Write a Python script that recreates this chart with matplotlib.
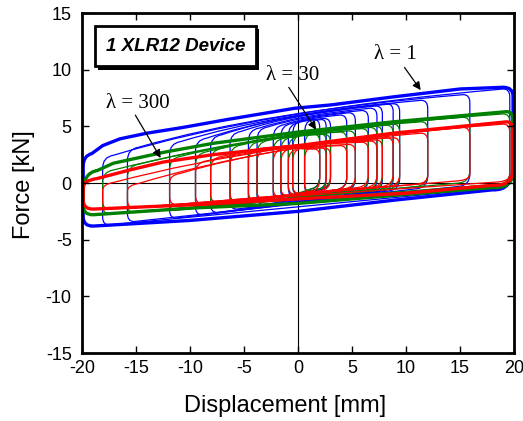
import matplotlib
matplotlib.use("Agg")
import matplotlib.pyplot as plt
from matplotlib.path import Path
from matplotlib.patches import PathPatch, Rectangle

plt.rcParams["axes.unicode_minus"] = False

# outer (largest) loop of each test, upper and lower branches [mm, kN]
blue_up_x = [-19.1, -18.1, -16.5, -14.0, -10.7, -6.6, -0.3, 3.1, 8.8, 15.0, 19.0]
blue_up_f = [2.6, 3.3, 3.9, 4.4, 4.9, 5.6, 6.6, 6.9, 7.6, 8.3, 8.45]
blue_lo_x = [-19.0, -10.0, 0.0, 9.0, 18.0]
blue_lo_f = [-3.8, -3.3, -2.5, -1.5, -0.6]

green_up_x = [-18.6, -17.1, -12.5, -7.9, 0.0, 8.8, 19.3]
green_up_f = [1.1, 1.75, 2.7, 3.5, 4.5, 5.4, 6.3]
green_lo_x = [-19.0, -9.7, 0.0, 8.8, 18.0]
green_lo_f = [-2.8, -2.2, -1.8, -1.1, -0.4]

red_up_x = [-18.6, -15.6, -12.5, -7.9, 0.0, 8.8, 19.3]
red_up_f = [0.4, 1.15, 1.85, 2.5, 3.3, 4.4, 5.4]
red_lo_x = [-19.0, -9.3, 0.0, 10.0, 18.0]
red_lo_f = [-2.3, -1.9, -1.4, -0.9, -0.2]

# inner loops: displacement reversal points [mm]
loop_left = [-18.1, -15.8, -11.9, -9.5, -8.1, -6.3, -4.6, -3.8, -2.3, -1.6, -0.9, -0.5, 0.6]
loop_right = [19.6, 15.9, 12.0, 9.4, 8.8, 7.8, 7.3, 6.5, 5.3, 4.5, 3.0, 2.0, 2.6]

# inner loop corner forces [kN]: top-left, top-right, bottom-left, bottom-right
blue_tl = [2.3, 3.0, 3.5, 3.8, 4.1, 4.4, 4.7, 4.8, 5.0, 5.1, 5.2, 5.3, 5.4]
blue_tr = [8.3, 7.8, 7.3, 7.0, 7.0, 6.8, 6.6, 6.4, 6.2, 6.0, 5.7, 5.6, 5.6]
blue_bl = [-3.7, -3.4, -3.1, -2.8, -2.6, -2.3, -2.0, -1.9, -1.6, -1.4, -1.2, -1.0, -0.8]
blue_br = [-0.3, -0.2, -0.4, -0.6, -0.6, -0.7, -0.7, -0.6, -0.6, -0.5, -0.5, -0.4, -0.4]

green_tl = [1.0, 1.5, 2.2, 2.6, 2.9, 3.2, 3.5, 3.6, 3.8, 3.9, 4.0, 4.1, 4.2]
green_tr = [6.1, 5.8, 5.4, 5.2, 5.1, 5.0, 4.9, 4.8, 4.6, 4.5, 4.3, 4.3, 4.3]
green_bl = [-2.7, -2.6, -2.4, -2.2, -2.1, -1.9, -1.7, -1.6, -1.4, -1.2, -1.0, -0.9, -0.7]
green_br = [0.0, 0.1, -0.2, -0.4, -0.4, -0.5, -0.5, -0.5, -0.5, -0.5, -0.4, -0.4, -0.4]

red_tl = [-0.1, -0.2, 0.7, 1.8, 2.2, 2.6, 2.9, 2.9, 2.9, 2.9, 2.9, 2.9, 3.0]
red_tr = [5.2, 4.9, 4.4, 4.0, 4.0, 3.8, 3.7, 3.6, 3.4, 3.3, 3.1, 3.0, 3.1]
red_bl = [-2.3, -2.2, -1.9, -1.8, -1.7, -1.6, -1.5, -1.4, -1.2, -1.1, -1.0, -0.9, -0.8]
red_br = [0.2, 0.3, 0.0, -0.2, -0.2, -0.3, -0.3, -0.3, -0.4, -0.5, -0.6, -0.6, -0.6]

# where the near-vertical reloading branches bend (left, right) [kN]
blue_knee = (1.5, 1.5)
green_knee = (-0.8, 1.0)
red_knee = (-0.3, 1.2)

x_ticks = [-20, -15, -10, -5, 0, 5, 10, 15, 20]
y_ticks = [-15, -10, -5, 0, 5, 10, 15]


def outer_path(up_x, up_f, lo_x, lo_f, knee, edge=19.9):
    verts = [(lo_x[0], lo_f[0]), (-edge, lo_f[0]), (-edge, lo_f[0] + 0.8),
             (-edge, knee[0]), (-edge, up_f[0] - 0.2), (up_x[0], up_f[0])]
    codes = [Path.MOVETO, Path.CURVE3, Path.CURVE3,
             Path.LINETO, Path.CURVE3, Path.CURVE3]
    for xv, fv in zip(up_x[1:], up_f[1:]):
        verts.append((xv, fv))
        codes.append(Path.LINETO)
    verts += [(edge, up_f[-1]), (edge, up_f[-1] - 0.8), (edge, knee[1]),
              (edge, lo_f[-1] - 0.1), (lo_x[-1], lo_f[-1])]
    codes += [Path.CURVE3, Path.CURVE3, Path.LINETO, Path.CURVE3, Path.CURVE3]
    for xv, fv in zip(lo_x[-2::-1], lo_f[-2::-1]):
        verts.append((xv, fv))
        codes.append(Path.LINETO)
    return Path(verts, codes)


def inner_path(left, right, tl, tr, bl, br):
    span = right - left
    wx = min(1.0, 0.3 * span)
    hy = min(1.0, 0.25 * (tl - bl))
    wr = min(0.6, 0.2 * span)
    hr = min(0.7, 0.2 * (tr - br))
    # slightly concave upper branch, staying under the backbone
    verts = [(left + wr, bl), (left, bl), (left, bl + hr), (left, tl - hy),
             (left, tl), (left + wx, tl + 0.15),
             (left + 0.4 * span, tl + 0.7 * (tr - tl)), (right - wr, tr),
             (right, tr), (right, tr - hr), (right, br + hy),
             (right, br), (right - wx, br - 0.1), (left + wr, bl)]
    codes = [Path.MOVETO, Path.CURVE3, Path.CURVE3, Path.LINETO,
             Path.CURVE3, Path.CURVE3,
             Path.CURVE3, Path.CURVE3,
             Path.CURVE3, Path.CURVE3, Path.LINETO,
             Path.CURVE3, Path.CURVE3, Path.LINETO]
    return Path(verts, codes)


def draw_series(ax, color, up_x, up_f, lo_x, lo_f, knee, tl, tr, bl, br):
    for i in range(len(loop_left)):
        p = inner_path(loop_left[i], loop_right[i], tl[i], tr[i], bl[i], br[i])
        ax.add_patch(PathPatch(p, fill=False, edgecolor=color, lw=0.9))
    ax.add_patch(PathPatch(outer_path(up_x, up_f, lo_x, lo_f, knee),
                           fill=False, edgecolor=color, lw=2.4))


fig = plt.figure(figsize=(5.23, 4.21), dpi=100)
ax = fig.add_axes([0.157, 0.1615, 0.826, 0.8075])

ax.axhline(0, color="black", lw=0.8, zorder=1)
ax.axvline(0, color="black", lw=0.8, zorder=1)

draw_series(ax, "#0000ff", blue_up_x, blue_up_f, blue_lo_x, blue_lo_f, blue_knee,
            blue_tl, blue_tr, blue_bl, blue_br)
draw_series(ax, "#008000", green_up_x, green_up_f, green_lo_x, green_lo_f, green_knee,
            green_tl, green_tr, green_bl, green_br)
draw_series(ax, "#ff0000", red_up_x, red_up_f, red_lo_x, red_lo_f, red_knee,
            red_tl, red_tr, red_bl, red_br)

ax.set_xlim(-20, 20)
ax.set_ylim(-15, 15)
ax.set_xticks(x_ticks)
ax.set_yticks(y_ticks)
ax.tick_params(direction="in", top=True, right=True, length=5, width=1, labelsize=13)
ax.tick_params(axis="y", pad=7.5)
ax.tick_params(axis="x", pad=5)
for lab in ax.get_xticklabels() + ax.get_yticklabels():
    lab.set_family(["Liberation Sans", "DejaVu Sans"])
for s in ax.spines.values():
    s.set_linewidth(2)

ax.set_xlabel("Displacement [mm]", fontsize=17, family=["Liberation Sans"])
ax.set_ylabel("Force [kN]", fontsize=17, family=["Liberation Sans"])
ax.xaxis.set_label_coords(0.47, -0.124)
ax.yaxis.set_label_coords(-0.109, 0.494)

serif = ["Liberation Serif", "DejaVu Serif"]
arrow = dict(arrowstyle="-|>", color="black", lw=0.9, mutation_scale=12)
ax.annotate("", xy=(11.5, 8.0), xytext=(9.7, 10.4), arrowprops=arrow)
ax.text(9.0, 11.3, "λ = 1", fontsize=15, family=serif, ha="center", va="center")
ax.annotate("", xy=(1.8, 4.5), xytext=(-1.0, 8.65), arrowprops=arrow)
ax.text(-0.5, 9.5, "λ = 30", fontsize=15, family=serif, ha="center", va="center")
ax.annotate("", xy=(-12.6, 2.0), xytext=(-15.2, 6.2), arrowprops=arrow)
ax.text(-14.8, 7.05, "λ = 300", fontsize=15, family=serif, ha="center", va="center")

# label box with drop shadow
ax.add_patch(Rectangle((-18.5, 10.0), 14.9, 3.6, facecolor="black", lw=0, zorder=4))
ax.add_patch(Rectangle((-18.8, 10.3), 14.9, 3.6, facecolor="white", edgecolor="black",
                       lw=2, zorder=5))
ax.text(-11.3, 12.05, "1 XLR12 Device", fontsize=13.5, weight="bold", style="italic",
        family=["Liberation Sans"], ha="center", va="center", zorder=6)

fig.savefig("out.png", dpi=100)
